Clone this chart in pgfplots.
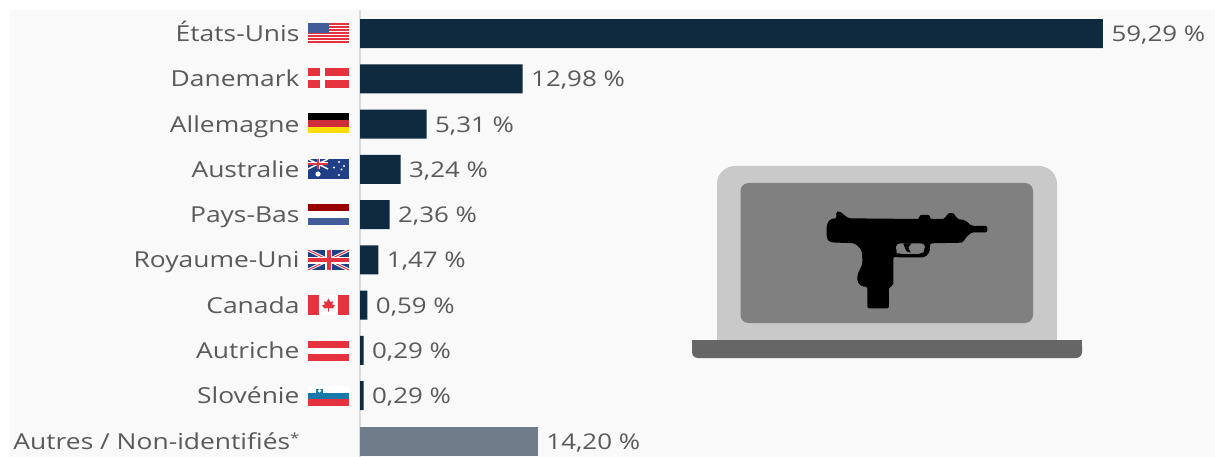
\documentclass[border=0pt]{standalone}
\usepackage{fontspec}
\setmainfont[FakeStretch=1.2]{Open Sans}
\usepackage{pgfplots}
\pgfplotsset{compat=1.18}
\definecolor{panel}{HTML}{F9F9F9}
\definecolor{barnavy}{HTML}{0F2A3F}
\definecolor{bargrey}{HTML}{6F7D8A}
\definecolor{labelgrey}{HTML}{5A5A5A}
\definecolor{axisgrey}{HTML}{D9DDE0}
\definecolor{fred}{HTML}{E5323F}
\definecolor{fblue}{HTML}{1F3F86}
\definecolor{lapbody}{HTML}{C9C9C9}
\definecolor{lapscreen}{HTML}{808080}
\definecolor{lapbase}{HTML}{666666}

% Flag drawing: #1 is the top edge of a 41 x 20 flag whose left edge is at 308
\newcommand{\flagat}[2]{\begin{scope}[shift={(308,#1)}]#2\end{scope}}
\begin{document}
\begin{tikzpicture}[x=1pt,y=-1pt]
\path[use as bounding box,fill=white] (0,0) rectangle (1215,457);
\fill[panel] (10,10) rectangle (1215,457);

\begin{axis}[
  at={(360pt,-10pt)}, anchor=north west,
  scale only axis, width=855pt, height=447pt,
  xmin=0, xmax=68.23,
  ymin=-0.519, ymax=9.353, y dir=reverse,
  axis x line=none,
  axis y line=left,
  y axis line style={draw=axisgrey, line width=1.6pt, -},
  ytick={0,...,9},
  yticklabels={États-Unis,Danemark,Allemagne,Australie,Pays-Bas,Royaume-Uni,Canada,Autriche,Slovénie,Autres / Non-identifiés{\fontsize{14}{14}\selectfont\raisebox{6pt}{*}}},
  major tick length=0pt,
  yticklabel style={font=\fontsize{22}{26}\selectfont, text=labelgrey, anchor=east, xshift=-57pt, text height=16pt, text depth=5pt, inner ysep=0pt, yshift=-2.5pt},
  clip=false,
  xbar, bar shift=0pt, bar width=29pt,
  nodes near coords={\pgfmathprintnumber[fixed,fixed zerofill,precision=2,use comma,assume math mode=true]{\pgfplotspointmeta}~\%},
  point meta=explicit,
  every node near coord/.append style={font=\fontsize{21.6}{26}\selectfont, text=labelgrey, anchor=west, xshift=5pt, text height=16pt, text depth=5pt, inner ysep=0pt, yshift=-2.5pt},
]
\addplot[draw=none, fill=barnavy] coordinates {
  (59.29,0) [59.29]
  (12.98,1) [12.98]
  (5.31,2) [5.31]
  (3.24,3) [3.24]
  (2.36,4) [2.36]
  (1.47,5) [1.47]
  (0.59,6) [0.59]
  (0.29,7) [0.29]
  (0.29,8) [0.29]
};
\addplot[draw=none, fill=bargrey] coordinates {(14.20,9) [14.20]};
\end{axis}

% United States
\flagat{23}{
  \fill[white] (0,0) rectangle (41,20);
  \foreach \s in {0,3,6,9,12,15,18} \fill[fred] (0,\s) rectangle (41,\s+1.6);
  \fill[fblue!85!white] (0,0) rectangle (21,10.5);
}
% Denmark
\flagat{68.5}{
  \fill[fred] (0,0) rectangle (41,20);
  \fill[white] (12,0) rectangle (17,20);
  \fill[white] (0,8) rectangle (41,12);
}
% Germany
\flagat{113.5}{
  \fill[black] (0,0) rectangle (41,7);
  \fill[fred!90!black] (0,7) rectangle (41,13.5);
  \fill[yellow!80!orange] (0,13.5) rectangle (41,20);
}
% Australia
\flagat{159}{
  \fill[fblue] (0,0) rectangle (41,20);
  \fill[white] (0,3.5) rectangle (20,6.5);
  \fill[white] (8.5,0) rectangle (11.5,10);
  \draw[white,line width=1.4pt] (0,0) -- (20,10) (20,0) -- (0,10);
  \fill[fred] (0,4.4) rectangle (20,5.6);
  \fill[fred] (9.4,0) rectangle (10.6,10);
  \fill[white] (10,15) circle (2.6);
  \foreach \p in {(31,3),(31,16),(26,8.5),(36,7),(33.5,10.5)} \fill[white] \p circle (1.1);
}
% Netherlands
\flagat{204.5}{
  \fill[white] (0,0) rectangle (41,20);
  \fill[red!60!black] (0,0) rectangle (41,6.7);
  \fill[fblue!85!white] (0,13.3) rectangle (41,20);
}
% United Kingdom
\flagat{250}{
  \fill[fblue] (0,0) rectangle (41,20);
  \draw[white,line width=3pt] (0,0) -- (41,20) (41,0) -- (0,20);
  \draw[fred,line width=1pt] (0,0) -- (41,20) (41,0) -- (0,20);
  \fill[white] (17,0) rectangle (24,20);
  \fill[white] (0,6.5) rectangle (41,13.5);
  \fill[fred] (18.5,0) rectangle (22.5,20);
  \fill[fred] (0,8) rectangle (41,12);
}
% Canada
\flagat{295}{
  \fill[white] (0,0) rectangle (41,20);
  \fill[fred] (0,0) rectangle (11,20);
  \fill[fred] (30,0) rectangle (41,20);
  \fill[fred] (20.5,3.5) -- (22.3,7) -- (25,6.2) -- (24.3,9.5) -- (27,10.5) -- (24.5,13.5) -- (21,13) -- (21,16.5) -- (20,16.5) -- (20,13) -- (16.5,13.5) -- (14,10.5) -- (16.7,9.5) -- (16,6.2) -- (18.7,7) -- cycle;
}
% Austria
\flagat{341}{
  \fill[white] (0,0) rectangle (41,20);
  \fill[fred] (0,0) rectangle (41,6.7);
  \fill[fred] (0,13.3) rectangle (41,20);
}
% Slovenia
\flagat{386}{
  \fill[white] (0,0) rectangle (41,20);
  \fill[fblue!70!cyan] (0,6.7) rectangle (41,13.3);
  \fill[fred] (0,13.3) rectangle (41,20);
  \fill[fblue!70!cyan] (8,2.5) rectangle (15,8);
  \fill[white] (11.5,4.8) circle (1.8);
}

% Laptop
\fill[lapbody,rounded corners=18] (717,166) rectangle (1057,300);
\fill[lapbody] (717,220) rectangle (1057,341);
\fill[lapscreen,rounded corners=8] (740.5,183) rectangle (1033,323);
\fill[lapbase,rounded corners=6] (692,340) rectangle (1082,358);
\fill[lapbase] (692,340) rectangle (1082,348);

% Submachine gun silhouette on the screen
\begin{scope}[shift={(680,150)},x=0.3333pt,y=-0.3333pt]
\fill[black,rounded corners=2]
  (440,225) -- (450,207) -- (470,205) -- (468,185) -- (478,183) -- (505,205)
  -- (718,207) -- (718,195) -- (750,195) -- (750,207) -- (795,207) -- (800,193)
  -- (815,187) -- (827,195) -- (830,207) -- (855,210) -- (875,228) -- (922,228)
  -- (922,247) -- (875,247) -- (855,265) -- (850,278) -- (750,280) -- (750,305)
  -- (735,322) -- (650,322) -- (640,320) -- (640,408) -- (627,410) -- (627,475)
  -- (562,475) -- (562,410) -- (545,410) -- (532,395) -- (532,375) -- (548,340)
  -- (545,300) -- (525,280) -- (450,277) -- (440,265) -- cycle;
\fill[lapscreen,rounded corners=4]
  (648,280) -- (735,280) -- (735,300) -- (725,312) -- (655,312) -- (648,305) -- cycle;
\fill[black] (670,280) -- (695,280) -- (685,292) -- (692,308) -- (680,304) -- (674,292) -- cycle;
\end{scope}
\end{tikzpicture}
\end{document}
